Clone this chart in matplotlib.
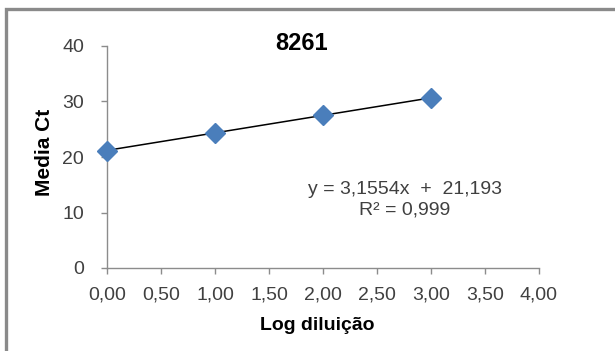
import numpy as np
import matplotlib.pyplot as plt
from matplotlib.patches import Rectangle

plt.rcParams['font.family'] = ['Liberation Sans', 'DejaVu Sans']

# mean Ct per log dilution step
log_dil = [0.0, 1.0, 2.0, 3.0]
media_ct = [21.15, 24.4, 27.6, 30.6]

# linear trendline coefficients
slope = 3.1554
intercept = 21.193
r2 = 0.999

xticks = [0, 0.5, 1, 1.5, 2, 2.5, 3, 3.5, 4]
xtick_labels = ['0,00', '0,50', '1,00', '1,50', '2,00', '2,50', '3,00', '3,50', '4,00']
yticks = [0, 10, 20, 30, 40]

text_col = '#404040'
axis_col = '#8c8c8c'

fig = plt.figure(figsize=(6.15, 3.51), dpi=100)
fig.patch.set_facecolor('white')

# chart border (cut off at right and bottom)
fig.patches.append(Rectangle((6 / 615, -0.2), 1.2, 1 - 9 / 351 + 0.2,
                             transform=fig.transFigure, fill=False,
                             edgecolor='#8a8a8a', linewidth=2.4, zorder=0))

ax = fig.add_axes([107 / 615, 1 - 268 / 351, 432 / 615, 222 / 351])

x_fit = np.array([log_dil[0], log_dil[-1]])
ax.plot(x_fit, slope * x_fit + intercept, color='black', linewidth=1.1, zorder=2)
ax.plot(log_dil, media_ct, linestyle='none', marker='D', markersize=10.3,
        color='#4a7ebb', markeredgecolor='#4a7ebb', zorder=3, clip_on=False)

ax.set_xlim(0, 4)
ax.set_ylim(0, 40)
ax.set_xticks(xticks)
ax.set_xticklabels(xtick_labels)
ax.set_yticks(yticks)

for s in ['top', 'right']:
    ax.spines[s].set_visible(False)
for s in ['left', 'bottom']:
    ax.spines[s].set_color(axis_col)
    ax.spines[s].set_linewidth(1.0)

ax.tick_params(axis='both', colors=axis_col, labelcolor=text_col, labelsize=14,
               length=4.5, width=1.0, direction='out')
ax.tick_params(axis='x', pad=9)
ax.tick_params(axis='y', pad=12)

fig.text(302 / 615, 1 - 44 / 351, '8261', ha='center', va='center',
         fontsize=17, fontweight='bold', color='black')
fig.text(45 / 615, 1 - 152 / 351, 'Media Ct', ha='center', va='center',
         rotation=90, fontsize=15, fontweight='bold', color='black')
fig.text(317 / 615, 1 - 326 / 351, 'Log diluição', ha='center', va='center',
         fontsize=14, fontweight='bold', color='black')

eq = 'y = {:.4f}x  +  {:.3f}'.format(slope, intercept).replace('.', ',')
fig.text(405 / 615, 1 - 190 / 351, eq, ha='center', va='center',
         fontsize=14, color=text_col)
fig.text(405 / 615, 1 - 210 / 351, 'R² = {:.3f}'.format(r2).replace('.', ','),
         ha='center', va='center', fontsize=14, color=text_col)

fig.savefig('out.png', dpi=100, facecolor='white')
